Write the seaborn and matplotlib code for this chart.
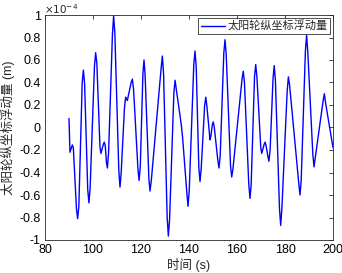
import matplotlib as mpl

mpl.use("Agg")

import matplotlib.pyplot as plt
import seaborn as sns
from matplotlib.ticker import FuncFormatter, MultipleLocator

# time (s) and sun-gear y-float (x1e-4 m)
t = [90, 90.4, 91.0, 91.4, 91.8, 93.1, 93.6, 94.1, 95.5, 96, 96.5,
     97.8, 98.3, 98.8, 100.6, 101.1, 101.6, 102.9, 103.3, 104.3, 104.7, 105.1,
     105.6, 106, 106.5, 108.1, 108.6, 109.1, 110.75, 111.25, 111.75,
     113.1, 113.6, 114.3, 115.9, 116.4, 116.9, 118.7, 119.2, 119.7,
     120.8, 121.25, 121.7, 123.3, 123.75, 124.3, 128.4, 128.9, 129.4,
     130.9, 131.4, 131.9, 133.7, 134.2, 134.7, 136.3, 136.8, 137.3,
     139.1, 139.6, 140.1, 142.0, 142.5, 143.0, 144.1, 144.6, 145.1,
     146.5, 147, 147.5, 148.75, 149.1, 149.7, 150.1, 150.5,
     152.0, 152.5, 153.0, 154.5, 155, 155.5, 157.3, 157.8, 158.3,
     162.1, 162.6, 163.1, 164.9, 165.4, 165.9, 167.3, 167.8, 168.3,
     169.9, 170.3, 171.3, 171.7, 172.1, 172.9, 173.3, 173.8,
     175.0, 175.5, 176.0, 177.7, 178.2, 178.7, 180.9, 181.4, 181.9,
     185.75, 186.25, 186.75, 188.5, 189, 189.5, 191.6, 192.1, 192.6,
     195.9, 196.4, 196.9, 200]
y = [0.08, -0.22, -0.18, -0.155, -0.18, -0.72, -0.81, -0.70, 0.40, 0.51, 0.39,
     -0.55, -0.67, -0.54, 0.54, 0.665, 0.57, -0.17, -0.23, -0.15, -0.13, -0.16,
     -0.31, -0.36, -0.22, 0.83, 0.99, 0.84, -0.38, -0.53, -0.40,
     0.17, 0.27, 0.24, 0.40, 0.43, 0.34, -0.36, -0.47, -0.35,
     0.48, 0.60, 0.47, -0.46, -0.565, -0.47, 0.53, 0.635, 0.48,
     -0.80, -0.965, -0.82, 0.31, 0.42, 0.34, 0.10, 0.02, -0.08,
     -0.58, -0.70, -0.56, 0.56, 0.68, 0.54, -0.36, -0.48, -0.36,
     0.19, 0.27, 0.18, -0.11, -0.08, 0.02, 0.05, 0.01,
     -0.29, -0.36, -0.25, 0.66, 0.78, 0.65, -0.34, -0.44, -0.37,
     0.43, 0.50, 0.40, -0.50, -0.63, -0.51, 0.45, 0.56, 0.45,
     -0.18, -0.23, -0.15, -0.13, -0.16, -0.26, -0.30, -0.20,
     0.43, 0.55, 0.42, -0.72, -0.87, -0.72, 0.32, 0.45, 0.38,
     -0.50, -0.60, -0.47, 0.68, 0.82, 0.67, -0.24, -0.35, -0.27,
     0.24, 0.30, 0.22, -0.18]

series_name = "太阳轮纵坐标浮动量"

sns.set_theme(style="white")
plt.rcParams["font.family"] = ["Liberation Sans", "Noto Sans CJK SC"]
plt.rcParams["axes.unicode_minus"] = False

fig = plt.figure(figsize=(3.42, 2.73), dpi=100)
ax = fig.add_axes([45 / 342, 33 / 273, 288 / 342, 225 / 273])

sns.lineplot(x=t, y=y, ax=ax, color="#0000ff", linewidth=1.0, label=series_name)

ax.set_xlim(80, 200)
ax.set_ylim(-1, 1)
ax.xaxis.set_major_locator(MultipleLocator(20))
ax.yaxis.set_major_locator(MultipleLocator(0.2))
ax.yaxis.set_major_formatter(FuncFormatter(lambda v, p: "%g" % round(v, 2)))
ax.tick_params(direction="in", length=3, width=0.6, labelsize=9, pad=3,
               top=True, right=True, colors="#262626", labelcolor="black")
for s in ax.spines.values():
    s.set_color("#262626")
    s.set_linewidth(0.6)

ax.set_xlabel("时间 (s)", fontsize=9, labelpad=1)
ax.set_ylabel("太阳轮纵坐标浮动量 (m)", fontsize=9, labelpad=3)
ax.text(-0.005, 0.995, r"$\times10^{-4}$", transform=ax.transAxes, fontsize=7.5,
        ha="left", va="bottom", family="DejaVu Sans")

leg = ax.legend(loc="upper right", fontsize=8, frameon=True, fancybox=False,
                borderpad=0.25, handlelength=2.2, handletextpad=0.2,
                borderaxespad=0.25)
leg.get_frame().set_edgecolor("black")
leg.get_frame().set_linewidth(0.6)

fig.savefig("out.png", dpi=100)
